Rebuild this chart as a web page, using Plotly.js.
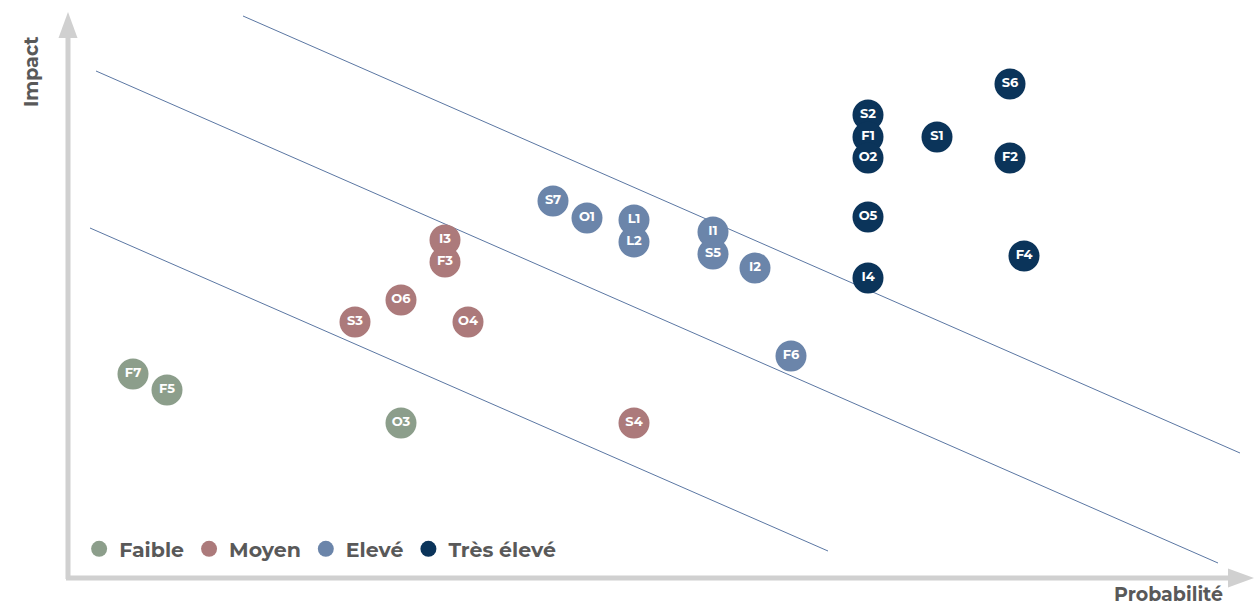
<!DOCTYPE html>
<html>
<head>
<meta charset="utf-8">
<script src="https://cdn.plot.ly/plotly-3.0.1.min.js"></script>
<style>html,body{margin:0;padding:0;background:#fff;}#chart{width:1256px;height:607px;}</style>
</head>
<body>
<div id="chart"></div>
<script>
// Risk categories
const categories = ["Faible", "Moyen", "Elevé", "Très élevé"];
const colors = ["#8c9e8b", "#ac7a7b", "#6b85aa", "#0b345a"];

// Faible
const faibleLabels = ["F7", "F5", "O3"];
const faibleProb   = [0.65, 0.99, 3.33];
const faibleImpact = [2.04, 1.88, 1.55];

// Moyen
const moyenLabels = ["S3", "O6", "I3", "F3", "O4", "S4"];
const moyenProb   = [2.87, 3.33, 3.77, 3.77, 4.00, 5.66];
const moyenImpact = [2.56, 2.78, 3.38, 3.16, 2.56, 1.55];

// Elevé
const eleveLabels = ["S7", "O1", "L1", "L2", "I1", "S5", "I2", "F6"];
const eleveProb   = [4.85, 5.19, 5.66, 5.66, 6.45, 6.45, 6.87, 7.23];
const eleveImpact = [3.77, 3.60, 3.58, 3.36, 3.46, 3.24, 3.10, 2.22];

// Très élevé
const tresLabels = ["S2", "F1", "O2", "S1", "S6", "F2", "O5", "I4", "F4"];
const tresProb   = [8.00, 8.00, 8.00, 8.69, 9.42, 9.42, 8.00, 8.00, 9.56];
const tresImpact = [4.63, 4.41, 4.20, 4.41, 4.94, 4.20, 3.61, 3.00, 3.22];

// Threshold lines (start/end in probability/impact units)
const line1Prob = [0.22, 7.60], line1Impact = [3.50, 0.27];
const line2Prob = [0.28, 11.50], line2Impact = [5.07, 0.15];
const line3Prob = [1.75, 11.72], line3Impact = [5.62, 1.25];

const fontFam = "Montserrat, 'Open Sans', Lato, sans-serif";
const traces = [];
[[line1Prob, line1Impact], [line2Prob, line2Impact], [line3Prob, line3Impact]].forEach(l => {
  traces.push({x: l[0], y: l[1], mode: "lines", line: {color: "#5b77a3", width: 1},
    showlegend: false, hoverinfo: "skip"});
});
const groups = [
  [faibleLabels, faibleProb, faibleImpact],
  [moyenLabels, moyenProb, moyenImpact],
  [eleveLabels, eleveProb, eleveImpact],
  [tresLabels, tresProb, tresImpact]
];
groups.forEach((g, i) => {
  traces.push({
    x: g[1], y: g[2], text: g[0], name: categories[i],
    mode: "markers+text", type: "scatter",
    marker: {color: colors[i], size: 31, line: {width: 0}},
    textposition: "middle center",
    textfont: {color: "#ffffff", size: 13, family: fontFam, weight: 700},
    hoverinfo: "skip"
  });
});

const axisGray = "#d0d0d0";
const layout = {
  width: 1256, height: 607,
  margin: {l: 0, r: 0, t: 0, b: 0},
  paper_bgcolor: "#ffffff", plot_bgcolor: "#ffffff",
  xaxis: {range: [-0.68, 11.88], showgrid: false, zeroline: false, showticklabels: false, showline: false, ticks: ""},
  yaxis: {range: [-0.29, 5.78], showgrid: false, zeroline: false, showticklabels: false, showline: false, ticks: ""},
  showlegend: true,
  legend: {orientation: "h", x: 0.063, y: 0.0956, yanchor: "middle", xanchor: "left",
    font: {family: fontFam, size: 20.5, color: "#595959", weight: 700},
    bgcolor: "rgba(0,0,0,0)", itemclick: false},
  shapes: [
    {type: "line", xref: "x", yref: "y", x0: 0, y0: -0.01, x1: 0, y1: 5.42, line: {color: axisGray, width: 5}},
    {type: "path", xref: "x", yref: "y", path: "M -0.095,5.40 L 0,5.66 L 0.095,5.40 Z", fillcolor: axisGray, line: {width: 0}},
    {type: "line", xref: "x", yref: "y", x0: -0.02, y0: 0, x1: 11.62, y1: 0, line: {color: axisGray, width: 5}},
    {type: "path", xref: "x", yref: "y", path: "M 11.60,0.095 L 11.86,0 L 11.60,-0.095 Z", fillcolor: axisGray, line: {width: 0}}
  ],
  annotations: [
    {text: "Impact", xref: "paper", yref: "paper", x: 32/1256, y: 1 - 72/607, showarrow: false,
      textangle: -90, font: {family: fontFam, size: 19, color: "#595959", weight: 700}, xanchor: "center", yanchor: "middle"},
    {text: "Probabilité", xref: "paper", yref: "paper", x: 1168/1256, y: 1 - 594/607, showarrow: false,
      font: {family: fontFam, size: 19, color: "#595959", weight: 700}, xanchor: "center", yanchor: "middle"}
  ]
};
Plotly.newPlot("chart", traces, layout, {displayModeBar: false, staticPlot: true});
</script>
</body>
</html>
